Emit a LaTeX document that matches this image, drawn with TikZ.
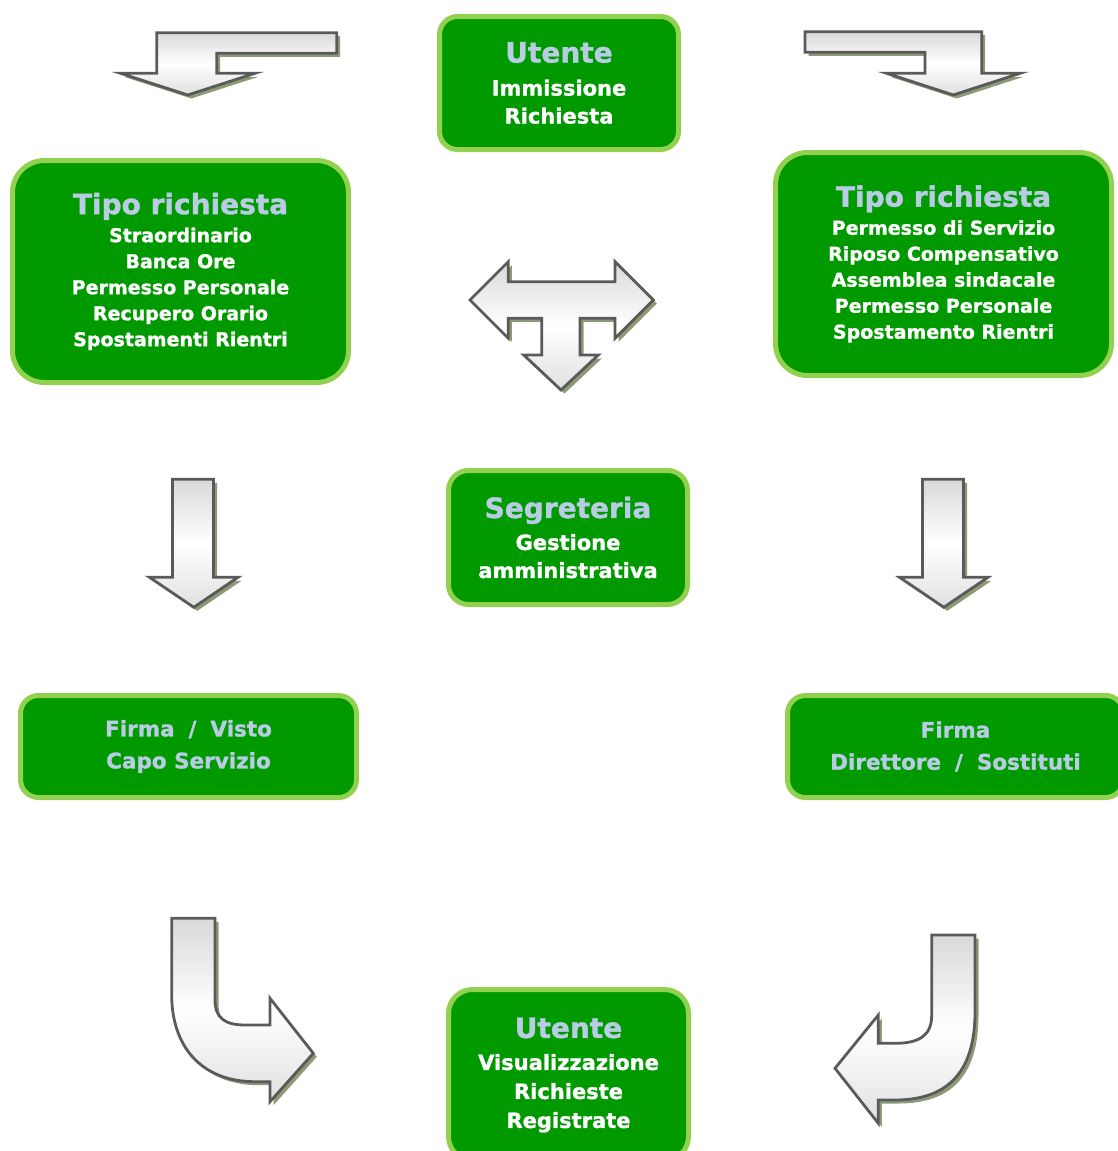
\documentclass[tikz,border=0pt]{standalone}
\usepackage{fontspec}
\setmainfont{DejaVu Sans}[BoldFeatures={FakeBold=1.2}]
\usetikzlibrary{positioning}
\definecolor{boxgreen}{RGB}{0,153,0}
\definecolor{edgegreen}{RGB}{146,208,80}
\definecolor{titleblue}{RGB}{184,204,228}
\definecolor{arrowgray}{RGB}{90,90,90}
\definecolor{shadowgreen}{RGB}{140,154,118}
\tikzset{
	stage/.style={draw=edgegreen, line width=5pt, fill=boxgreen, rounded corners=18pt, inner sep=0pt, text=white, align=center, font=\bfseries\fontsize{21}{28}\selectfont},
	bigstage/.style={stage, rounded corners=32pt, font=\bfseries\fontsize{19}{26}\selectfont},
	signstage/.style={stage, text=titleblue, font=\bfseries\fontsize{21.5}{32}\selectfont},
	blockarrow/.style={draw=arrowgray, line width=2.8pt, line join=miter, top color=black!15, bottom color=black!12, middle color=white, preaction={fill=shadowgreen, transform canvas={xshift=3.5pt, yshift=-3.5pt}}},
}
\newcommand{\stagetitle}[1]{{\fontsize{28}{33}\selectfont\color{titleblue}#1}}
\newcommand{\slashsep}{\hspace{0.65em}/\hspace{0.65em}}

\begin{document}
\begin{tikzpicture}[x=1pt, y=-1pt]
		\useasboundingbox (0,0) rectangle (1118,1151);
		
		\node (utin) [stage, minimum width=239pt, minimum height=133pt] at (559,83) {\stagetitle{Utente}\\[5pt] Immissione\\ Richiesta};
		\node (tipoa) [bigstage, minimum width=336pt, minimum height=222pt] at (180.5,271.5) {\stagetitle{Tipo richiesta}\\[2pt] Straordinario\\ Banca Ore\\ Permesso Personale\\ Recupero Orario\\ Spostamenti Rientri};
		\node (tipob) [bigstage, minimum width=336pt, minimum height=223pt] at (943.5,264) {\stagetitle{Tipo richiesta}\\[2pt] Permesso di Servizio\\ Riposo Compensativo\\ Assemblea sindacale\\ Permesso Personale\\ Spostamento Rientri};
		\node (segr) [stage, rounded corners=20pt, minimum width=239pt, minimum height=134pt] at (568,537.5) {\stagetitle{Segreteria}\\[4pt] Gestione\\ amministrativa};
		\node (capo) [signstage, minimum width=336pt, minimum height=102pt] at (188.5,746.5) {Firma\slashsep Visto\\ Capo Servizio};
		\node (dir) [signstage, minimum width=336pt, minimum height=102pt] at (955.5,746.5) {Firma\\ Direttore\slashsep Sostituti};
		\node (utout) [stage, rounded corners=24pt, minimum width=240pt, minimum height=171pt] at (568.5,1075) {\stagetitle{Utente}\\[4pt] Visualizzazione\\[1pt] Richieste\\[1pt] Registrate};
		
		% block arrows
		\draw[blockarrow] (336.7,32.7) -- (336.7,53.3) -- (216.7,53.3) -- (216.7,73.3) -- (255,73.3) -- (187.8,95) -- (120.5,73.3) -- (156.7,73.3) -- (156.7,32.7) -- cycle;
		\draw[blockarrow] (805,31.7) -- (981.7,31.7) -- (981.7,73.3) -- (1020,73.3) -- (953.3,95) -- (886.7,73.3) -- (925,73.3) -- (925,52.3) -- (805,52.3) -- cycle;
		\draw[blockarrow] (470,300) -- (508.3,261.7) -- (508.3,281.7) -- (615,281.7) -- (615,261.7) -- (653.3,300) -- (615,338.3) -- (615,318.3) -- (580,318.3) -- (580,355) -- (598.3,355) -- (561,390) -- (523.7,355) -- (541.7,355) -- (541.7,318.3) -- (508.3,318.3) -- (508.3,338.3) -- cycle;
		\draw[blockarrow] (172.5,479.3) -- (213.5,479.3) -- (213.5,577.3) -- (238,577.3) -- (193.8,607.3) -- (149.5,577.3) -- (172.5,577.3) -- cycle;
		\draw[blockarrow] (922.5,479.3) -- (963.5,479.3) -- (963.5,577.3) -- (988,577.3) -- (943.8,607.3) -- (899.5,577.3) -- (922.5,577.3) -- cycle;
		\draw[blockarrow] (171.7,918.3) -- (215,918.3) -- (215,1000) .. controls (215,1018) and (225,1025) .. (245,1025) -- (270,1025) -- (270,998.3) -- (313.3,1053.3) -- (270,1101.7) -- (270,1081.7) -- (255,1081.7) .. controls (200,1081.7) and (171.7,1045) .. (171.7,995) -- cycle;
		\draw[blockarrow] (931.7,935) -- (975,935) -- (975,1012) .. controls (975,1075) and (945,1100) .. (895,1100) -- (878.3,1100) -- (878.3,1123.3) -- (835,1068.3) -- (878.3,1015) -- (878.3,1043.3) -- (895,1043.3) .. controls (920,1043.3) and (931.7,1035) .. (931.7,1015) -- cycle;
\end{tikzpicture}
\end{document}
